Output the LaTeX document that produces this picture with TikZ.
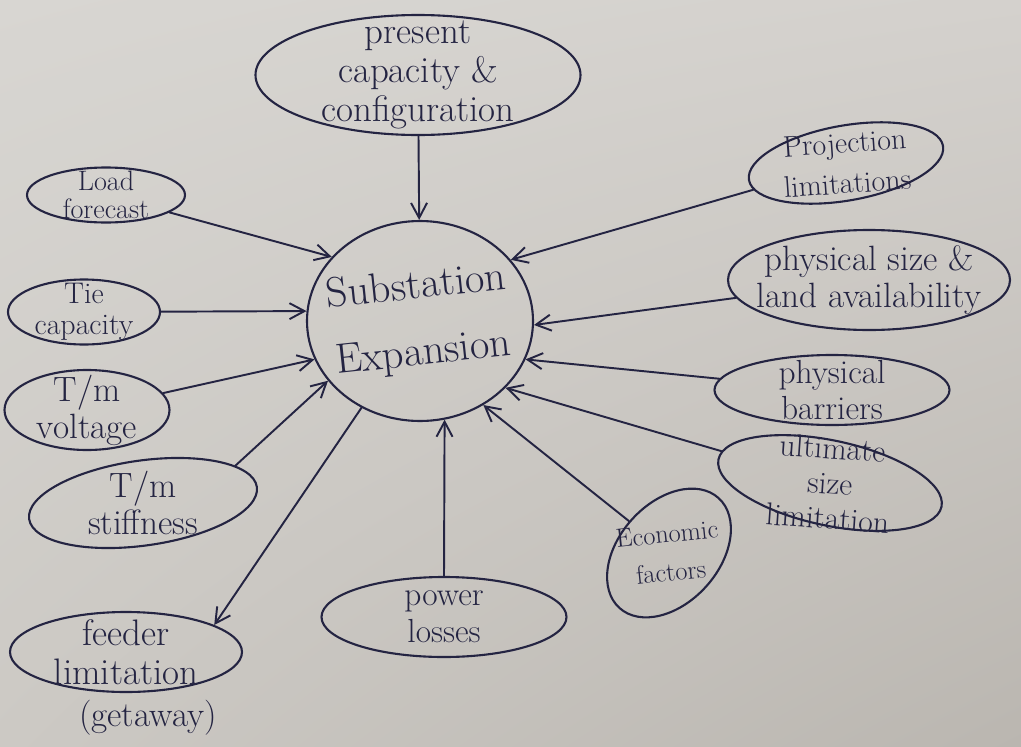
\documentclass[tikz,border=0pt]{standalone}
\usetikzlibrary{shapes.geometric,arrows.meta,shadings}
\definecolor{ink}{RGB}{36,36,66}
\definecolor{paperul}{RGB}{216,214,210}
\definecolor{paperur}{RGB}{212,209,205}
\definecolor{paperll}{RGB}{204,201,196}
\definecolor{paperlr}{RGB}{186,182,176}
\begin{document}
\begin{tikzpicture}[x=0.02cm, y=-0.02cm, line join=round, line cap=round, >={Straight Barb[length=3mm,width=3.2mm]},
	bubble/.style 2 args={ellipse, draw=ink, line width=1.2pt, minimum width=#1*0.02cm, minimum height=#2*0.02cm, inner sep=0pt},
	every label/.style={align=center, text=ink, font=\fontsize{20}{21}\selectfont},
	link/.style={->, draw=ink, line width=1.1pt}]
	% paper
	\shade[upper left=paperul, upper right=paperur, lower left=paperll, lower right=paperlr] (0,0) rectangle (1021,747);
	\useasboundingbox (0,0) rectangle (1021,747);
	% centre
	\node[bubble={226}{200}, label={[font=\fontsize{24}{38}\selectfont, rotate=6]center:Substation\\Expansion}] (se) at (420,321) {};
	% bubbles round it
	\node[bubble={325}{120}, label={[font=\fontsize{21}{22}\selectfont]center:present\\capacity \&\\configuration}] (pc) at (418,75) {};
	\node[bubble={158}{55}, label={[font=\fontsize{16}{16}\selectfont]center:Load\\forecast}] (lf) at (106,195) {};
	\node[bubble={152}{65}, label={[font=\fontsize{17}{18}\selectfont]center:Tie\\capacity}] (tc) at (84,312) {};
	\node[bubble={165}{80}, label=center:{T/m\\voltage}] (tv) at (87,410) {};
	\node[bubble={230}{85}, rotate=8, label=center:{T/m\\stiffness}] (ts) at (143,503) {};
	\node[bubble={232}{80}, label={[font=\fontsize{21}{22}\selectfont]center:feeder\\limitation}] (fl) at (126,652) {};
	\node[text=ink, font=\fontsize{20}{21}\selectfont] (gw) at (148,718) {(getaway)};
	\node[bubble={245}{80}, label={[font=\fontsize{19}{21}\selectfont]center:power\\losses}] (pl) at (444,617) {};
	\node[bubble={148}{100}, rotate=48, label={[font=\fontsize{15}{22}\selectfont, rotate=6]center:Economic\\factors}] (ec) at (669,553) {};
	\node[bubble={228}{85}, rotate=-12, label={[font=\fontsize{18}{20}\selectfont, rotate=-4]center:ultimate\\size\\limitation}] (us) at (830,483) {};
	\node[bubble={235}{70}, label={[font=\fontsize{19}{20}\selectfont]center:physical\\barriers}] (pb) at (832,390) {};
	\node[bubble={282}{100}, label=center:{physical size \&\\land availability}] (ps) at (869,280) {};
	\node[bubble={197}{75}, rotate=10, label={[font=\fontsize{17}{23}\selectfont, rotate=4]center:Projection\\limitations}] (pj) at (846,163) {};
	% arrows
	\draw[link] (pc) -- (se);
	\draw[link] (lf) -- (se.144);
	\draw[link] (tc) -- (se.175);
	\draw[link] (tv) -- (se.200);
	\draw[link] (ts.14) -- (se.213);
	\draw[link] (se.236) -- (fl.17);
	\draw[link] (pl.north) -- (se.284);
	\draw[link] (ec) -- (se.307);
	\draw[link] (us) -- (se.322);
	\draw[link] (pb) -- (se.340);
	\draw[link] (ps) -- (se.358);
	\draw[link] (pj) -- (se.34);
\end{tikzpicture}
\end{document}
